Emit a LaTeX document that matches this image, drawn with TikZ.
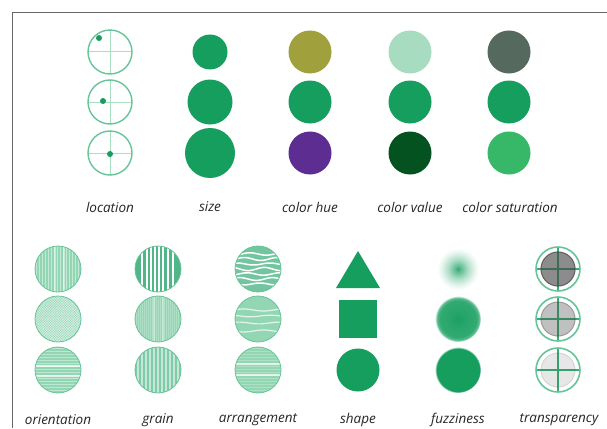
\documentclass[tikz,border=0pt]{standalone}
\usepackage{fontspec}
\setmainfont{Open Sans}
\definecolor{gmain}{HTML}{169E5F}
\definecolor{gline}{HTML}{66C598}
\definecolor{glight}{HTML}{A8DFC3}
\definecolor{gpat}{HTML}{93D6B4}
\definecolor{hueA}{HTML}{A0A03C}
\definecolor{hueC}{HTML}{5E2D91}
\definecolor{valA}{HTML}{A8DCC0}
\definecolor{valC}{HTML}{04521F}
\definecolor{satA}{HTML}{56695F}
\definecolor{satC}{HTML}{36B868}
\definecolor{frame}{HTML}{666666}
\definecolor{txt}{HTML}{262626}
\pgfdeclareradialshading{fuzzA}{\pgfpoint{0bp}{0bp}}{color(0bp)=(gmain!90!white); color(3bp)=(gmain!70!white); color(11bp)=(gmain!35!white); color(19bp)=(gmain!10!white); color(24bp)=(white); color(50bp)=(white)}
\pgfdeclareradialshading{fuzzB}{\pgfpoint{0bp}{0bp}}{color(0bp)=(gmain!98!white); color(10bp)=(gmain!92!white); color(20bp)=(gmain!88!white); color(23bp)=(gmain!70!white); color(25bp)=(white); color(50bp)=(white)}
\pgfdeclareradialshading{fuzzC}{\pgfpoint{0bp}{0bp}}{color(0bp)=(gmain); color(23.5bp)=(gmain); color(25bp)=(white); color(50bp)=(white)}
\tikzset{
  lbl/.style={font=\itshape\fontsize{13.5}{15}\selectfont, text=txt, inner sep=0pt},
  ring/.style={draw=gline, line width=1.4pt},
  cross/.style={draw=glight, line width=1pt},
  patedge/.style={draw=gline, line width=0.8pt},
}
\begin{document}
\begin{tikzpicture}[x=1pt,y=-1pt]
\useasboundingbox (0,0) rectangle (607,428);
\fill[white] (0,0) rectangle (607,428);
% frame
\draw[frame, line width=1.2pt] (12.5,428) -- (12.5,12.5) -- (607,12.5);

% ---------- location ----------
\foreach \yy/\dx/\dy in {52/-11/-14, 102/-7/-1, 153/0/1} {
  \draw[cross] (110-22,\yy) -- (110+22,\yy) (110,\yy-22) -- (110,\yy+22);
  \draw[ring] (110,\yy) circle (22);
  \fill[gmain] (110+\dx,\yy+\dy) circle (3);
}
% ---------- size ----------
\fill[gmain] (210,52) circle (17.5);
\fill[gmain] (210,102) circle (22.5);
\fill[gmain] (210,153) circle (25);
% ---------- colour hue ----------
\fill[hueA] (310,52) circle (21.5);
\fill[gmain] (310,102) circle (21.5);
\fill[hueC] (310,153) circle (21.5);
% ---------- colour value ----------
\fill[valA] (410,52) circle (21.5);
\fill[gmain] (410,102) circle (21.5);
\fill[valC] (410,153) circle (21.5);
% ---------- colour saturation ----------
\fill[satA] (509,52) circle (21.5);
\fill[gmain] (509,102) circle (21.5);
\fill[satC] (509,153) circle (21.5);

% top labels
\node[lbl] (l1) at (110,207) {location};
\node[lbl] (l2) at (210,207) {size};
\node[lbl] (l3) at (310,207) {color hue};
\node[lbl] (l4) at (410,207) {color value};
\node[lbl] (l5) at (510,207) {color saturation};

% ---------- orientation ----------
\begin{scope}
  \fill[gpat] (58,269) circle (23);
  \clip (58,269) circle (23);
  \foreach \k in {-22,-19,...,22} \draw[white, opacity=.45, line width=.8pt] (58+\k,246) -- (58+\k,292);
  \draw[white, opacity=.45, line width=1.6pt] (55,246) -- (55,292) (64,246) -- (64,292);
\end{scope}
\draw[patedge] (58,269) circle (23);
\begin{scope}
  \fill[gpat] (58,319) circle (23);
  \clip (58,319) circle (23);
  \foreach \k in {-50,-47.5,...,50} {
    \draw[white, opacity=.5, line width=.7pt] (58+\k-25,294) -- (58+\k+25,344);
    \draw[white, opacity=.5, line width=.7pt] (58+\k+25,294) -- (58+\k-25,344);
  }
\end{scope}
\draw[patedge] (58,319) circle (23);
\begin{scope}
  \fill[gpat] (58,370) circle (23);
  \clip (58,370) circle (23);
  \foreach \k in {-22,-19,...,22} \draw[white, opacity=.4, line width=.8pt] (35,370+\k) -- (81,370+\k);
  \draw[white, opacity=.7, line width=1.6pt] (35,366) -- (81,366) (35,376) -- (81,376);
\end{scope}
\draw[patedge] (58,370) circle (23);

% ---------- grain ----------
\begin{scope}
  \fill[gmain!75!white] (158,269) circle (23);
  \clip (158,269) circle (23);
  \foreach \k in {-16,-11,-7,-3,1,5,10,15} \draw[white, line width=1.6pt] (158+\k,246) -- (158+\k,292);
\end{scope}
\draw[patedge] (158,269) circle (23);
\begin{scope}
  \fill[gpat] (158,319) circle (23);
  \clip (158,319) circle (23);
  \foreach \k in {-22,-20,...,22} \draw[white, opacity=.25, line width=.6pt] (158+\k,296) -- (158+\k,342);
  \draw[white, opacity=.35, line width=1.5pt] (154,296) -- (154,342) (163,296) -- (163,342);
\end{scope}
\draw[patedge] (158,319) circle (23);
\begin{scope}
  \fill[gmain!55!white] (158,370) circle (23);
  \clip (158,370) circle (23);
  \foreach \k in {-20,-16,...,22} \draw[white, opacity=.55, line width=1.1pt] (158+\k,347) -- (158+\k,393);
\end{scope}
\draw[patedge] (158,370) circle (23);

% ---------- arrangement ----------
\begin{scope}
  \fill[gmain!60!white] (258,269) circle (23);
  \clip (258,269) circle (23);
  \foreach \o/\a/\p in {-15/1.2/0, -10/1.5/60, -5/1.0/140, 0/1.6/200, 5/1.2/30, 10/1.4/110, 15/1.0/250}
    \draw[white, line width=1.5pt] plot[domain=-24:24, samples=25] ({258+\x},{269+\o+\a*sin(\x*11+\p)});
\end{scope}
\draw[patedge] (258,269) circle (23);
\begin{scope}
  \fill[gpat] (258,319) circle (23);
  \clip (258,319) circle (23);
  \foreach \o/\a/\p in {-9/1.0/40, -3/0.8/160, 4/0.9/80, 12/1.0/220}
    \draw[white, opacity=.75, line width=1.2pt] plot[domain=-24:24, samples=25] ({258+\x},{319+\o+\a*sin(\x*9+\p)});
\end{scope}
\draw[patedge] (258,319) circle (23);
\begin{scope}
  \fill[gpat] (258,370) circle (23);
  \clip (258,370) circle (23);
  \draw[white, opacity=.7, line width=1.4pt] (235,364) -- (281,364) (235,375) -- (281,375);
  \foreach \k in {-22,-19,...,22} \draw[white, opacity=.25, line width=.7pt] (235,370+\k) -- (281,370+\k);
\end{scope}
\draw[patedge] (258,370) circle (23);

% ---------- shape ----------
\fill[gmain] (358,251) -- (380,288) -- (336,288) -- cycle;
\fill[gmain] (339,300) rectangle (377,338);
\fill[gmain] (358,370) circle (21.5);

% ---------- fuzziness ----------
\shade[shading=fuzzA] (458,269) circle (22);
\shade[shading=fuzzB] (458,319) circle (23);
\shade[shading=fuzzC] (458,370) circle (23);

% ---------- transparency ----------
\foreach \yy/\op in {269/.6, 319/.33, 370/.12} {
  \draw[draw=gmain!85!white, line width=1.6pt] (558-22,\yy) -- (558+22,\yy) (558,\yy-22) -- (558,\yy+22);
  \fill[black!75, opacity=\op] (558,\yy) circle (17.5);
  \draw[black!80, opacity=\op*0.8, line width=1pt] (558,\yy) circle (17);
  \draw[draw=gline, line width=1.6pt] (558,\yy) circle (22);
}

% bottom labels
\node[lbl] (b1) at (58,420) {orientation};
\node[lbl] (b2) at (158,420) {grain};
\node[lbl] (b3) at (258,420) {arrangement};
\node[lbl] (b4) at (358,420) {shape};
\node[lbl] (b5) at (458,420) {fuzziness};
\node[lbl] (b6) at (559,420) {transparency};
\end{tikzpicture}
\end{document}
